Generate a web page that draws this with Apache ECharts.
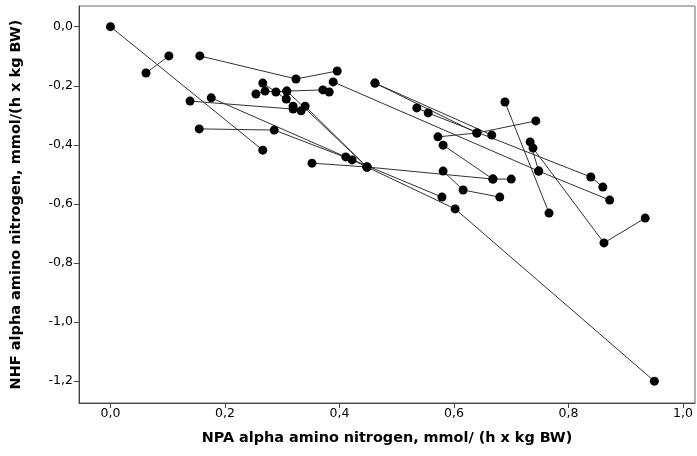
<!DOCTYPE html>
<html>
<head>
<meta charset="utf-8">
<script src="https://cdn.jsdelivr.net/npm/echarts@6/dist/echarts.min.js"></script>
<style>html,body{margin:0;padding:0;background:#fff}#c{width:697px;height:456px}</style>
</head>
<body>
<div id="c"></div>
<script>
// Each subject: sequence of [NPA, NHF] measurements (connected)
const subjectA = [[0.000, 0.000], [0.266, -0.418]];
const subjectB = [[0.062, -0.157], [0.102, -0.099]];
const subjectC = [[0.156, -0.099], [0.324, -0.177], [0.396, -0.150]];
const subjectD = [[0.139, -0.252], [0.319, -0.279]];
const subjectE = [[0.176, -0.241], [0.411, -0.441], [0.579, -0.577]];
const subjectF = [[0.155, -0.346], [0.286, -0.350], [0.422, -0.451], [0.602, -0.617], [0.950, -1.200]];
const subjectG = [[0.340, -0.269], [0.448, -0.475]];
const subjectH = [[0.254, -0.228], [0.270, -0.218], [0.289, -0.221], [0.308, -0.218], [0.371, -0.214], [0.382, -0.221]];
const subjectI = [[0.266, -0.191], [0.307, -0.245], [0.319, -0.269], [0.333, -0.285]];
const subjectJ = [[0.308, -0.218], [0.448, -0.475]];
const subjectK = [[0.389, -0.187], [0.748, -0.489], [0.872, -0.587]];
const subjectL = [[0.462, -0.191], [0.640, -0.360]];
const subjectM = [[0.535, -0.275], [0.555, -0.292], [0.839, -0.509], [0.860, -0.543]];
const subjectN = [[0.572, -0.373], [0.640, -0.360], [0.743, -0.319]];
const subjectO = [[0.462, -0.191], [0.666, -0.367]];
const subjectP = [[0.581, -0.401], [0.668, -0.516], [0.700, -0.516]];
const subjectQ = [[0.352, -0.462], [0.448, -0.475], [0.668, -0.516]];
const subjectR = [[0.581, -0.489], [0.616, -0.553], [0.680, -0.577]];
const subjectS = [[0.689, -0.255], [0.766, -0.631]];
const subjectT = [[0.733, -0.390], [0.748, -0.489]];
const subjectU = [[0.738, -0.411], [0.862, -0.732], [0.934, -0.648]];

const subjects = [subjectA, subjectB, subjectC, subjectD, subjectE, subjectF, subjectG, subjectH, subjectI,
  subjectJ, subjectK, subjectL, subjectM, subjectN, subjectO, subjectP, subjectQ, subjectR, subjectS, subjectT, subjectU];

const xTicks = [0, 0.2, 0.4, 0.6, 0.8, 1.0];
const yTicks = [0, -0.2, -0.4, -0.6, -0.8, -1.0, -1.2];

const fmt = v => (Math.round(v * 10) / 10).toFixed(1).replace('.', ',');
const FONT = 'DejaVu Sans';

const chart = echarts.init(document.getElementById('c'), null, {renderer: 'canvas'});
chart.setOption({
  animation: false,
  backgroundColor: '#fff',
  grid: {left: 79, right: 2, top: 6, bottom: 53, show: true, borderColor: '#666', borderWidth: 1, backgroundColor: 'transparent'},
  xAxis: {
    type: 'value', min: -0.055, max: 1.021,
    name: 'NPA alpha amino nitrogen, mmol/ (h x kg BW)', nameLocation: 'middle', nameGap: 28,
    nameTextStyle: {fontFamily: FONT, fontSize: 14.4, fontWeight: 'bold', color: '#000'},
    axisLine: {show: true, onZero: false, lineStyle: {color: '#444'}},
    axisTick: {show: true, length: 5, lineStyle: {color: '#444'}, customValues: xTicks},
    axisLabel: {fontFamily: FONT, fontSize: 12.5, color: '#000', margin: 4, customValues: xTicks, formatter: fmt},
    splitLine: {show: false}
  },
  yAxis: {
    type: 'value', min: -1.274, max: 0.070,
    name: 'NHF alpha amino nitrogen, mmol/(h x kg BW)', nameLocation: 'middle', nameGap: 55,
    nameTextStyle: {fontFamily: FONT, fontSize: 14.5, fontWeight: 'bold', color: '#000'},
    axisLine: {show: true, onZero: false, lineStyle: {color: '#444'}},
    axisTick: {show: true, length: 5, lineStyle: {color: '#444'}, customValues: yTicks},
    axisLabel: {fontFamily: FONT, fontSize: 12.5, color: '#000', margin: 6, customValues: yTicks, formatter: fmt},
    splitLine: {show: false}
  },
  series: subjects.map(s => ({
    type: 'line', data: s, symbol: 'circle', symbolSize: 9,
    itemStyle: {color: '#000'}, lineStyle: {color: '#333', width: 1}
  }))
});
</script>
</body>
</html>
